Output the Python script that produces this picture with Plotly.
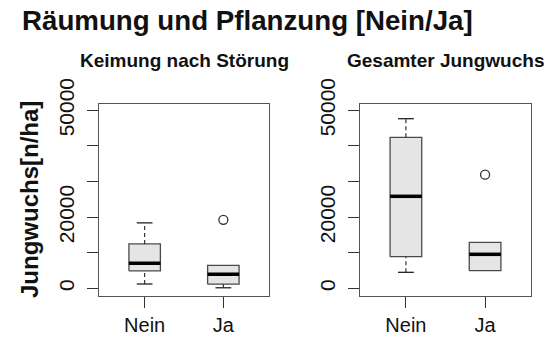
import plotly.graph_objects as go

# Group labels on the x axis
groups = ["Nein", "Ja"]

# Five-number summaries per panel and group (n/ha)
keim_lower = [1210, 150]
keim_q1 = [4900, 1150]
keim_median = [7050, 3980]
keim_q3 = [12480, 6450]
keim_upper = [18380, 6450]
keim_outliers = [[], [19230]]

ges_lower = [4490, 4940]
ges_q1 = [8880, 4940]
ges_median = [25840, 9550]
ges_q3 = [42410, 12920]
ges_upper = [47640, 12920]
ges_outliers = [[], [31910]]

y_ticks = [0, 10000, 20000, 30000, 40000, 50000]
y_ticktext = ["0", "", "20000", "", "", "50000"]

panels = [
    ("x", "y", keim_lower, keim_q1, keim_median, keim_q3, keim_upper, keim_outliers),
    ("x2", "y2", ges_lower, ges_q1, ges_median, ges_q3, ges_upper, ges_outliers),
]

HALF_BOX = 0.2
HALF_STAPLE = 0.1
FONT = "Liberation Sans, Arial, sans-serif"

fig = go.Figure()

for xa, ya, lo, q1, med, q3, hi, outs in panels:
    for i, _ in enumerate(groups):
        c = i + 1
        # box body
        fig.add_trace(go.Scatter(
            x=[c - HALF_BOX, c + HALF_BOX, c + HALF_BOX, c - HALF_BOX, c - HALF_BOX],
            y=[q1[i], q1[i], q3[i], q3[i], q1[i]],
            mode="lines", fill="toself", fillcolor="#e5e5e5",
            line=dict(color="#4a4a4a", width=1.3),
            xaxis=xa, yaxis=ya, hoverinfo="skip", showlegend=False))
        # whiskers (dashed) and staples
        if hi[i] > q3[i]:
            fig.add_trace(go.Scatter(
                x=[c, c], y=[q3[i], hi[i]], mode="lines",
                line=dict(color="#222222", width=1.1, dash="4px,3px"),
                xaxis=xa, yaxis=ya, hoverinfo="skip", showlegend=False))
            fig.add_trace(go.Scatter(
                x=[c - HALF_STAPLE, c + HALF_STAPLE], y=[hi[i], hi[i]], mode="lines",
                line=dict(color="#222222", width=1.3),
                xaxis=xa, yaxis=ya, hoverinfo="skip", showlegend=False))
        if lo[i] < q1[i]:
            fig.add_trace(go.Scatter(
                x=[c, c], y=[lo[i], q1[i]], mode="lines",
                line=dict(color="#222222", width=1.1, dash="4px,3px"),
                xaxis=xa, yaxis=ya, hoverinfo="skip", showlegend=False))
            fig.add_trace(go.Scatter(
                x=[c - HALF_STAPLE, c + HALF_STAPLE], y=[lo[i], lo[i]], mode="lines",
                line=dict(color="#222222", width=1.3),
                xaxis=xa, yaxis=ya, hoverinfo="skip", showlegend=False))
        # median
        fig.add_trace(go.Scatter(
            x=[c - HALF_BOX, c + HALF_BOX], y=[med[i], med[i]], mode="lines",
            line=dict(color="black", width=3.5),
            xaxis=xa, yaxis=ya, hoverinfo="skip", showlegend=False))
        # outliers
        if outs[i]:
            fig.add_trace(go.Scatter(
                x=[c] * len(outs[i]), y=outs[i], mode="markers",
                marker=dict(symbol="circle-open", size=9, color="#333333",
                            line=dict(width=1.3)),
                xaxis=xa, yaxis=ya, hoverinfo="skip", showlegend=False))

xaxis_common = dict(
    range=[0.42, 2.58], tickmode="array", tickvals=[1, 2], ticktext=groups,
    ticks="outside", ticklen=11, tickwidth=1.2, tickcolor="#333333",
    showline=True, mirror=True, linecolor="#555555", linewidth=1.3,
    showgrid=False, zeroline=False, fixedrange=True, automargin=False,
    tickfont=dict(family=FONT, size=20, color="#111111"),
    ticklabelstandoff=0,
)
yaxis_common = dict(
    range=[-2160, 51770], tickmode="array", tickvals=y_ticks, ticktext=y_ticktext,
    tickangle=-90, ticks="outside", ticklen=11, tickwidth=1.2, tickcolor="#333333",
    showline=True, mirror=True, linecolor="#555555", linewidth=1.3,
    showgrid=False, zeroline=False, fixedrange=True, automargin=False,
    tickfont=dict(family=FONT, size=21, color="#111111"),
    ticklabelstandoff=4,
)

y_dom = [(338 - 296) / 338, (338 - 104) / 338]
fig.update_layout(
    width=544, height=338,
    margin=dict(l=0, r=0, t=0, b=0, autoexpand=False),
    paper_bgcolor="white", plot_bgcolor="white",
    xaxis=dict(domain=[99 / 544, 269 / 544], anchor="y", **xaxis_common),
    yaxis=dict(domain=y_dom, anchor="x", **yaxis_common),
    xaxis2=dict(domain=[360 / 544, 531 / 544], anchor="y2", **xaxis_common),
    yaxis2=dict(domain=y_dom, anchor="x2", **yaxis_common),
    annotations=[
        dict(text="<b>Räumung und Pflanzung [Nein/Ja]</b>", xref="paper", yref="paper",
             x=20 / 544, y=(338 - 21) / 338, xanchor="left", yanchor="middle",
             showarrow=False, font=dict(family=FONT, size=27.7, color="#111111")),
        dict(text="<b>Keimung nach Störung</b>", xref="paper", yref="paper",
             x=184 / 544, y=(338 - 60) / 338, xanchor="center", yanchor="middle",
             showarrow=False, font=dict(family=FONT, size=19, color="#111111")),
        dict(text="<b>Gesamter Jungwuchs</b>", xref="paper", yref="paper",
             x=445.5 / 544, y=(338 - 60) / 338, xanchor="center", yanchor="middle",
             showarrow=False, font=dict(family=FONT, size=19, color="#111111")),
        dict(text="<b>Jungwuchs[n/ha]</b>", xref="paper", yref="paper",
             x=29 / 544, y=(338 - 200) / 338, xanchor="center", yanchor="middle",
             textangle=-90, showarrow=False,
             font=dict(family=FONT, size=24, color="#111111")),
    ],
)

fig.write_html("out.html")
